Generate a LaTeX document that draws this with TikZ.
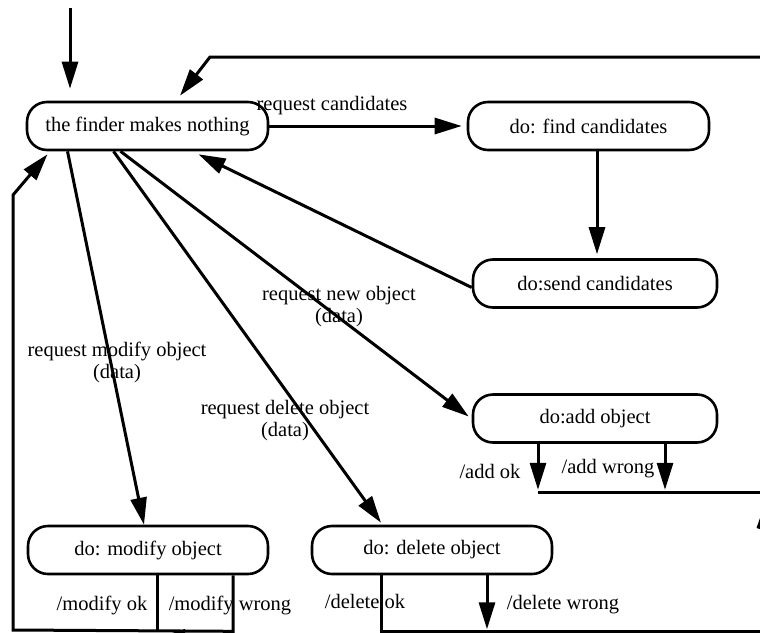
\documentclass[tikz,border=0pt]{standalone}
\usepackage{fontspec}
\setmainfont{Liberation Serif}
\usetikzlibrary{arrows.meta}
\begin{document}
\begin{tikzpicture}[x=1pt,y=-1pt,
  state/.style={draw, line width=2.6pt, rounded corners=20pt,
    minimum width=241pt, minimum height=48pt, inner sep=0pt,
    font=\fontsize{20.5}{24}\selectfont},
  flow/.style={line width=3pt, -{Triangle[length=27pt,width=16pt]}},
  wire/.style={line width=3pt},
  lbl/.style={font=\fontsize{20.5}{22}\selectfont, align=center, inner sep=0pt},
]
\useasboundingbox (0,0) rectangle (760,632);
\clip (0,0) rectangle (760,632);

% states
\node[state] (finder) at (147.5,126) {the finder makes nothing};
\node[state] (find)   at (588.5,126) {do: find candidates};
\node[state, minimum width=244pt] (send) at (595,283.5) {do:send candidates};
\node[state, minimum width=244pt] (add)  at (595,418.5) {do:add object};
\node[state, minimum width=240pt] (modify) at (148,550) {do: modify object};
\node[state, minimum width=240pt] (delete) at (432,550) {do: delete object};

% loose ends running off the sheet
\coordinate (start) at (70,8);
\coordinate (loopR) at (762,57);

% initial transition
\draw[flow] (start) -- ([xshift=-77.5pt,yshift=12pt]finder.north);

% return from the right-hand side
\draw[flow] (loopR) -- (210,57) -- ([xshift=32.5pt,yshift=5pt]finder.north);

% candidate search
\draw[flow, shorten >=5pt] (finder.east) -- (find.west);
\node[lbl] (lcand) at (332,106) {request candidates};
\draw[flow, shorten >=4pt] ([xshift=8.5pt]find.south) -- ([xshift=2pt]send.north);
\draw[flow] ([yshift=-4pt]send.west) -- ([xshift=51pt,yshift=-3pt]finder.south);

% requests leaving the idle state
\draw[flow] ([xshift=-80pt]finder.south) -- ([xshift=-4pt]modify.north);
\draw[flow] ([xshift=-34pt]finder.south) -- ([xshift=-51pt,yshift=2pt]delete.north);
\draw[flow] ([xshift=-27pt]finder.south) -- ([xshift=-3pt,yshift=2pt]add.west);
\node[lbl] (lnew) at (339,307) {request new object\\(data)};
\node[lbl] (lmod) at (117,362) {request modify object\\(data)};
\node[lbl] (ldel) at (285,421) {request delete object\\(data)};

% add object outcomes
\draw[flow] ([xshift=-57pt]add.south) -- ++(0,46);
\draw[flow] ([xshift=70pt]add.south) -- ++(0,46);
\draw[wire] ([xshift=-57pt,yshift=-49pt]add.south) -- ++(226,0);
\node[lbl] (laddok) at (490,471) {/add ok};
\node[lbl] (laddw)  at (608,469) {/add wrong};
\fill (756.5,528) -- (760,518) -- (763,530) -- cycle;

% modify object outcomes
\draw[flow] ([xshift=85pt]modify.south) -- ++(0,56) -- (13,630) -- (13,195)
  -- ([xshift=-100pt,yshift=-3pt]finder.south);
\draw[wire] ([xshift=9pt]modify.south) -- ++(0,56);
\draw[flow] ([xshift=85pt,yshift=-62pt]modify.south) -- ([xshift=10pt,yshift=-62pt]modify.south);
\node[lbl] (lmodok) at (102,605) {/modify ok};
\node[lbl] (lmodw)  at (230,605) {/modify wrong};

% delete object outcomes
\draw[wire] ([xshift=-51pt]delete.south) -- ++(0,56) -- ++(385,0);
\draw[flow] ([xshift=55pt]delete.south) -- ++(0,54);
\node[lbl] (ldelok) at (365,601) {/delete ok};
\node[lbl] (ldelw)  at (563,605) {/delete wrong};
\end{tikzpicture}
\end{document}
